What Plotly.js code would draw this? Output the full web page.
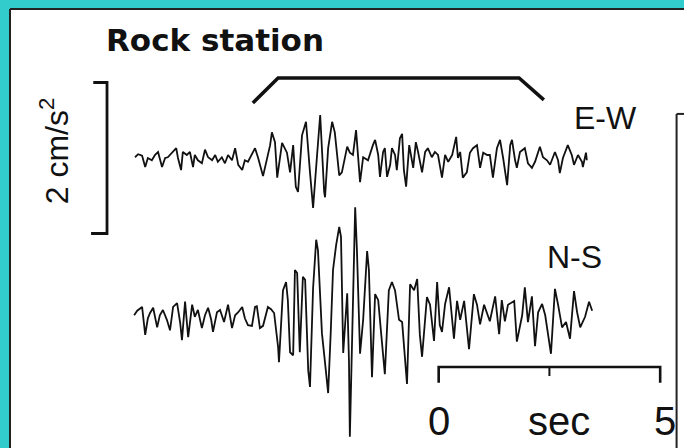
<!DOCTYPE html>
<html>
<head>
<meta charset="utf-8">
<script src="https://cdn.plot.ly/plotly-3.0.1.min.js"></script>
<style>
  html, body { margin: 0; padding: 0; background: #33cccc; }
  #chart { width: 684px; height: 448px; }
</style>
</head>
<body>
<div id="chart"></div>
<script>
// Rock station accelerograms: time in seconds from the start of the record,
// acceleration in cm/s^2 (peaks and troughs of each component).
const ewTime = [0.00,0.07,0.16,0.23,0.29,0.38,0.45,0.52,0.61,0.68,0.74,0.84,0.93,0.97,1.04,1.08,1.17,1.24,1.31,1.35,1.42,1.51,1.58,1.65,1.74,1.81,1.87,1.96,2.03,2.10,2.19,2.26,2.33,2.42,2.48,2.55,2.71,2.78,2.89,3.05,3.09,3.16,3.21,3.32,3.43,3.50,3.57,3.63,3.68,3.77,3.86,3.95,4.02,4.11,4.18,4.27,4.29,4.36,4.45,4.51,4.61,4.67,4.79,4.85,4.92,4.99,5.08,5.15,5.26,5.37,5.42,5.49,5.53,5.60,5.64,5.69,5.76,5.80,5.87,5.91,5.98,6.03,6.07,6.12,6.19,6.28,6.34,6.39,6.48,6.55,6.61,6.70,6.77,6.84,6.93,7.00,7.07,7.16,7.25,7.29,7.34,7.40,7.49,7.56,7.63,7.72,7.79,7.86,7.95,8.01,8.08,8.17,8.24,8.31,8.40,8.47,8.51,8.58,8.62,8.69,8.80,8.87,8.96,9.03,9.14,9.21,9.30,9.37,9.48,9.55,9.59,9.66,9.77,9.86,9.91,10.00,10.09,10.11,10.18,10.20];
const ewAccel = [0.01,0.05,0.03,-0.12,0.00,-0.03,0.04,0.08,-0.12,0.00,0.01,0.07,0.13,0.00,-0.16,0.08,0.04,0.08,-0.12,0.04,-0.03,-0.07,0.11,0.01,-0.03,0.04,-0.05,0.01,-0.07,0.04,-0.03,0.13,-0.09,-0.16,-0.03,-0.05,0.13,0.00,-0.24,0.17,0.34,0.21,-0.26,0.20,0.07,-0.19,0.17,-0.38,-0.45,0.30,0.48,-0.19,-0.66,0.04,0.57,-0.45,-0.52,0.13,0.48,0.34,-0.23,-0.19,0.15,0.07,0.04,0.37,-0.32,0.01,-0.03,0.17,0.24,0.04,-0.25,0.08,0.13,-0.25,-0.09,0.13,0.04,-0.16,0.26,0.32,-0.16,-0.38,0.17,-0.13,0.21,0.08,-0.19,0.08,0.13,0.01,0.08,0.04,-0.26,0.04,-0.05,0.04,0.28,0.00,0.08,-0.26,-0.19,0.07,0.13,0.17,-0.13,0.07,0.04,0.04,-0.26,0.13,0.24,0.00,-0.36,0.17,0.24,-0.03,-0.13,0.08,0.13,-0.07,-0.13,-0.05,0.15,0.01,-0.03,-0.09,0.08,-0.03,-0.20,0.00,0.17,0.04,-0.09,0.04,-0.05,-0.12,0.07,-0.03];

const nsTime = [-0.02,0.05,0.16,0.23,0.29,0.34,0.41,0.50,0.56,0.63,0.72,0.79,0.86,0.95,1.02,1.06,1.13,1.20,1.29,1.35,1.42,1.51,1.58,1.65,1.72,1.76,1.85,1.92,2.01,2.10,2.19,2.26,2.33,2.42,2.48,2.55,2.64,2.71,2.75,2.82,2.89,2.96,3.00,3.07,3.14,3.23,3.25,3.34,3.41,3.45,3.50,3.57,3.61,3.66,3.72,3.79,3.84,3.91,3.95,4.02,4.09,4.13,4.22,4.29,4.36,4.42,4.47,4.54,4.61,4.65,4.70,4.79,4.83,4.85,4.90,4.97,5.01,5.08,5.15,5.24,5.28,5.35,5.42,5.49,5.55,5.64,5.73,5.80,5.87,5.96,6.03,6.14,6.21,6.30,6.37,6.43,6.48,6.59,6.66,6.75,6.82,6.88,6.93,7.00,7.09,7.20,7.27,7.34,7.43,7.54,7.65,7.72,7.79,7.88,8.01,8.13,8.22,8.28,8.35,8.42,8.56,8.62,8.74,8.80,8.87,8.96,9.03,9.10,9.19,9.26,9.39,9.48,9.55,9.64,9.73,9.82,9.91,9.98,10.05,10.16,10.25,10.32];
const nsAccel = [0.01,0.07,0.12,-0.25,-0.03,0.04,0.11,-0.15,0.01,0.08,-0.05,-0.19,0.12,0.17,-0.09,-0.32,0.19,-0.28,0.15,-0.01,0.08,-0.16,0.01,0.11,-0.05,-0.21,0.05,0.08,-0.08,0.15,-0.16,0.01,0.05,0.12,-0.03,-0.12,-0.13,0.12,0.13,-0.16,-0.13,0.01,0.12,0.09,0.04,-0.41,-0.61,0.34,0.45,0.21,-0.48,-0.52,0.61,0.57,-0.48,0.52,0.48,-0.72,-0.94,0.37,1.01,0.87,-0.23,-0.62,-1.02,-0.19,0.61,0.94,1.18,1.05,-0.49,0.30,-0.60,-1.60,-0.19,1.44,0.87,-0.50,-0.05,0.86,0.61,-0.81,0.29,0.21,-0.19,-0.77,0.34,0.45,0.34,-0.05,-0.08,-0.90,0.42,0.34,0.49,-0.25,-0.54,0.25,0.15,-0.33,0.45,-0.12,-0.21,0.16,0.38,-0.30,0.20,-0.05,0.20,-0.44,0.29,0.15,-0.11,0.15,-0.07,0.26,-0.24,0.21,-0.07,0.15,0.20,-0.34,0.01,0.38,-0.08,0.26,-0.40,0.05,0.16,0.01,-0.50,0.36,0.15,-0.15,-0.08,-0.30,0.33,0.05,-0.15,-0.01,0.19,0.07];

const componentLabels = ['E-W', 'N-S'];
const titleText = 'Rock station';
const ampUnitText = '2 cm/s<sup>2</sup>';
const timeTickLabels = ['0', '5'];
const timeUnitText = 'sec';

// Scale bars and analysis window (seconds, cm/s^2)
const ampBar = 2;          // cm/s^2
const timeBar = 5;         // s
const windowTime = [2.66, 3.23, 8.67, 9.23];
const windowLevel = [0.73, 1.06, 1.06, 0.77];

// Layout constants: vertical offset of the second component, bar placement
const NS_OFFSET = -2.093;
const AMP_BAR_T = -0.632;
const TIME_BAR_T0 = 6.855;
const TIME_BAR_Y = -2.768;

const black = '#111';
const fontFam = 'Liberation Sans, Arial, sans-serif';

const traces = [
  { x: ewTime, y: ewAccel, mode: 'lines', line: { color: black, width: 1.8 }, hoverinfo: 'skip' },
  { x: nsTime, y: nsAccel.map(v => v + NS_OFFSET), mode: 'lines', line: { color: black, width: 1.8 }, hoverinfo: 'skip' },
  // amplitude scale bar
  { x: [AMP_BAR_T - 0.31, AMP_BAR_T, AMP_BAR_T, AMP_BAR_T - 0.36],
    y: [ampBar / 2, ampBar / 2, -ampBar / 2, -ampBar / 2],
    mode: 'lines', line: { color: black, width: 2.8 }, hoverinfo: 'skip' },
  // time scale bar
  { x: [TIME_BAR_T0, TIME_BAR_T0, TIME_BAR_T0 + timeBar, TIME_BAR_T0 + timeBar],
    y: [TIME_BAR_Y - 0.21, TIME_BAR_Y, TIME_BAR_Y, TIME_BAR_Y - 0.21],
    mode: 'lines', line: { color: black, width: 2.6 }, hoverinfo: 'skip' },
  { x: [TIME_BAR_T0 + timeBar / 2, TIME_BAR_T0 + timeBar / 2],
    y: [TIME_BAR_Y, TIME_BAR_Y - 0.12],
    mode: 'lines', line: { color: black, width: 2 }, hoverinfo: 'skip' },
  // analysis window bracket
  { x: windowTime, y: windowLevel, mode: 'lines', line: { color: black, width: 3.5 }, hoverinfo: 'skip' }
];

const annotations = [
  { x: 1.81, y: 1.56, text: '<b>' + titleText + '</b>', showarrow: false,
    font: { family: 'DejaVu Sans, sans-serif', size: 31, color: black } },
  { x: 10.63, y: 0.53, text: componentLabels[0], showarrow: false,
    font: { family: fontFam, size: 32, color: black } },
  { x: 9.93, y: NS_OFFSET + 0.78, text: componentLabels[1], showarrow: false,
    font: { family: fontFam, size: 32, color: black } },
  { x: -1.81, y: 0.10, text: ampUnitText, textangle: -90, showarrow: false,
    font: { family: fontFam, size: 32, color: black } },
  { x: TIME_BAR_T0, y: TIME_BAR_Y - 0.72, text: timeTickLabels[0], showarrow: false,
    font: { family: fontFam, size: 40, color: black } },
  { x: TIME_BAR_T0 + 2.72, y: TIME_BAR_Y - 0.72, text: timeUnitText, showarrow: false,
    font: { family: fontFam, size: 40, color: black } },
  { x: TIME_BAR_T0 + timeBar + 0.1, y: TIME_BAR_Y - 0.72, text: timeTickLabels[1], showarrow: false,
    font: { family: fontFam, size: 40, color: black } }
];

const layout = {
  width: 684, height: 448,
  margin: { l: 10, r: 0, t: 9, b: 0, pad: 0 },
  paper_bgcolor: '#33cccc',
  plot_bgcolor: '#ffffff',
  showlegend: false,
  xaxis: { range: [-2.822, 12.393], visible: false, fixedrange: true },
  yaxis: { range: [-3.841, 1.9735], visible: false, fixedrange: true },
  annotations: annotations,
  shapes: [
    // panel frame
    { type: 'line', xref: 'paper', yref: 'paper', x0: 0, x1: 0, y0: 0, y1: 1, line: { color: '#222', width: 2 } },
    { type: 'line', xref: 'paper', yref: 'paper', x0: 0, x1: 1, y0: 1, y1: 1, line: { color: '#222', width: 2 } },
    // corner of the adjoining panel
    { type: 'line', xref: 'paper', yref: 'paper', x0: 0.989, x1: 0.989, y0: 0, y1: 0.761, line: { color: '#222', width: 2 } },
    { type: 'line', xref: 'paper', yref: 'paper', x0: 0.989, x1: 1, y0: 0.761, y1: 0.761, line: { color: '#222', width: 2 } }
  ]
};

Plotly.newPlot('chart', traces, layout, { staticPlot: true, displayModeBar: false });
</script>
</body>
</html>
